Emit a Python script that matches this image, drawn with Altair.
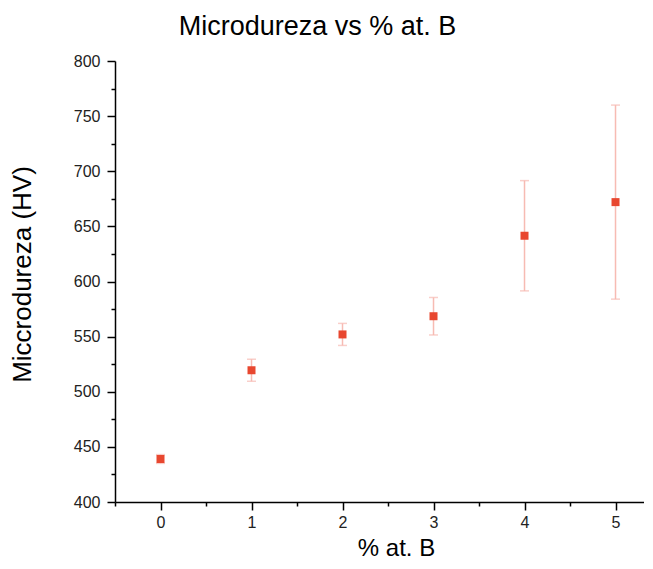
import altair as alt
import pandas as pd

# Data
boron = [0, 1, 2, 3, 4, 5]                      # % at. B
hardness = [439, 519.5, 552, 568.5, 641.5, 672]  # HV
error = [4, 10, 10, 17, 50, 88]                 # +/- HV

x_major = [0, 1, 2, 3, 4, 5]
x_minor = [-0.5, 0.5, 1.5, 2.5, 3.5, 4.5]
y_major = [400, 450, 500, 550, 600, 650, 700, 750, 800]
y_minor = [425, 475, 525, 575, 625, 675, 725, 775]

df = pd.DataFrame({"boron": boron, "hardness": hardness, "error": error})
df["lo"] = df["hardness"] - df["error"]
df["hi"] = df["hardness"] + df["error"]

FONT = "Liberation Sans"
xs = alt.Scale(domain=[-0.5, 5.313], nice=False, zero=False)
ys = alt.Scale(domain=[400, 800], nice=False, zero=False)

major_x = alt.Axis(values=x_major, tickSize=8, tickWidth=1.5, tickColor="black",
                   domainColor="black", domainWidth=1.5, labelFontSize=16,
                   labelPadding=4, labelColor="#222", labelFont=FONT,
                   title="% at. B", titleFontSize=24, titleFont=FONT,
                   titleFontWeight="normal", titleColor="black",
                   titleBaseline="alphabetic", titleX=281, titleY=53,
                   grid=False, orient="bottom")
major_y = alt.Axis(values=y_major, format="d", tickSize=8, tickWidth=1.5, tickColor="black",
                   domainColor="black", domainWidth=1.5, labelFontSize=16,
                   labelPadding=7, labelColor="#222", labelFont=FONT,
                   title="Miccrodureza (HV)", titleFontSize=26, titleFont=FONT,
                   titleFontWeight="normal", titleColor="black", titlePadding=38,
                   titleY=213, grid=False, orient="left")
minor_x = alt.Axis(values=x_minor, tickSize=4, tickWidth=1.5, tickColor="black",
                   domain=False, labels=False, title="", grid=False, orient="bottom")
minor_y = alt.Axis(values=y_minor, tickSize=4, tickWidth=1.5, tickColor="black",
                   domain=False, labels=False, title="", grid=False, orient="left")

base = alt.Chart(df)
ERR = "#F7BBB3"
bars = base.mark_rule(color=ERR, strokeWidth=1.5).encode(
    x=alt.X("boron:Q", scale=xs, axis=minor_x),
    y=alt.Y("lo:Q", scale=ys, axis=minor_y),
    y2="hi:Q",
)
caps_lo = base.mark_tick(color=ERR, size=9, thickness=1.5, orient="horizontal").encode(
    x=alt.X("boron:Q", scale=xs, axis=None),
    y=alt.Y("lo:Q", scale=ys, axis=None),
)
caps_hi = base.mark_tick(color=ERR, size=9, thickness=1.5, orient="horizontal").encode(
    x=alt.X("boron:Q", scale=xs, axis=None),
    y=alt.Y("hi:Q", scale=ys, axis=None),
)
points = base.mark_square(size=64, color="#E8472F", opacity=1).encode(
    x=alt.X("boron:Q", scale=xs, axis=major_x),
    y=alt.Y("hardness:Q", scale=ys, axis=major_y),
)

chart = alt.layer(bars, caps_lo, caps_hi, points).resolve_axis(
    x="independent", y="independent"
).properties(
    width=529,
    height=441,
    autosize=alt.AutoSizeParams(type="none"),
    padding={"left": 107, "top": 53, "right": 0, "bottom": 58},
    title=alt.TitleParams("Microdureza vs % at. B", fontSize=27, font=FONT,
                          fontWeight="normal", color="black", anchor="middle",
                          dx=-62, offset=12),
).configure_view(strokeWidth=0)

chart.save("out.html", embed_options={"renderer": "svg", "actions": False})
